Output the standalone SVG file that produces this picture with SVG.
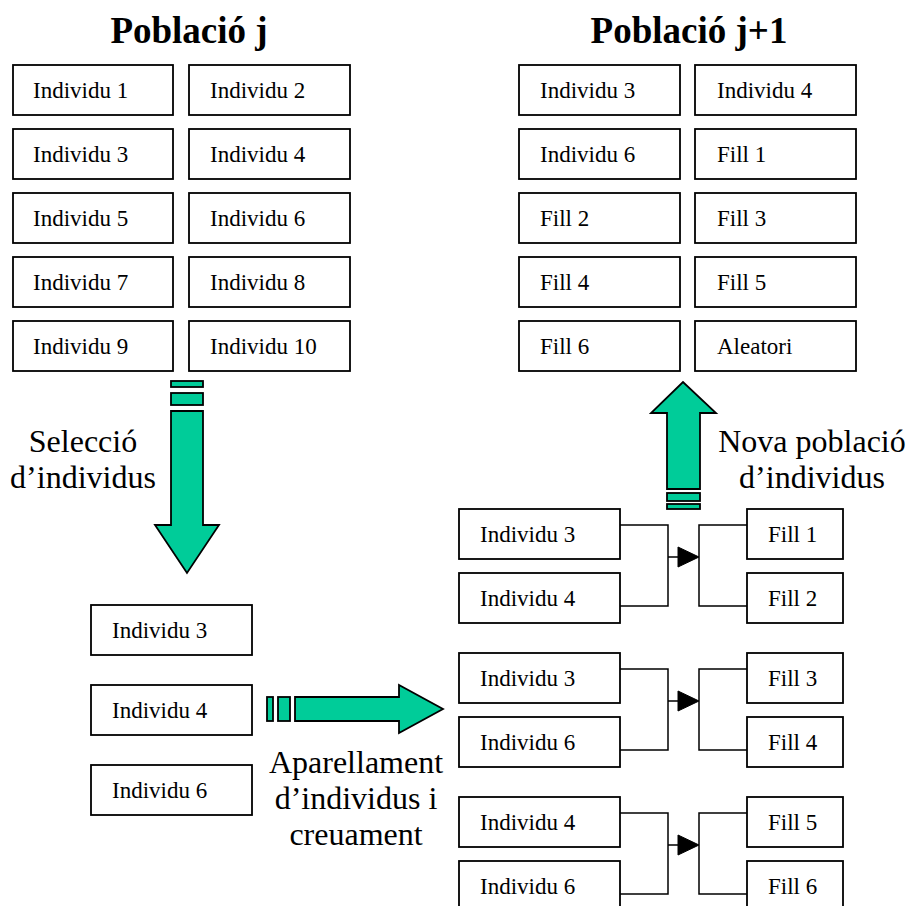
<svg xmlns="http://www.w3.org/2000/svg" width="907" height="906" viewBox="0 0 907 906">
<style>
.box{fill:#fff;stroke:#000;stroke-width:1.8}
.t{font-family:"Liberation Serif","Times New Roman",serif;font-size:23px;fill:#000}
.title{font-family:"Liberation Serif","Times New Roman",serif;font-size:37px;font-weight:bold;fill:#000;text-anchor:middle}
.lbl{font-family:"Liberation Serif","Times New Roman",serif;font-size:32px;fill:#000;text-anchor:middle}
.big{fill:#00cc99;stroke:#000;stroke-width:1.8}
.ln{fill:none;stroke:#000;stroke-width:1.5}
.tri{fill:#000;stroke:#000;stroke-width:1}
</style>
<rect width="907" height="906" fill="#fff"/>
<text class="title" x="189" y="43">Població j</text>
<text class="title" x="689" y="43">Població j+1</text>

<g id="pj">
<g id="pj-1"><rect class="box" x="13" y="65" width="160" height="50"/><text class="t" x="33" y="98">Individu 1</text></g>
<g id="pj-2"><rect class="box" x="189" y="65" width="161" height="50"/><text class="t" x="210" y="98">Individu 2</text></g>
<g id="pj-3"><rect class="box" x="13" y="129" width="160" height="50"/><text class="t" x="33" y="162">Individu 3</text></g>
<g id="pj-4"><rect class="box" x="189" y="129" width="161" height="50"/><text class="t" x="210" y="162">Individu 4</text></g>
<g id="pj-5"><rect class="box" x="13" y="193" width="160" height="50"/><text class="t" x="33" y="226">Individu 5</text></g>
<g id="pj-6"><rect class="box" x="189" y="193" width="161" height="50"/><text class="t" x="210" y="226">Individu 6</text></g>
<g id="pj-7"><rect class="box" x="13" y="257" width="160" height="50"/><text class="t" x="33" y="290">Individu 7</text></g>
<g id="pj-8"><rect class="box" x="189" y="257" width="161" height="50"/><text class="t" x="210" y="290">Individu 8</text></g>
<g id="pj-9"><rect class="box" x="13" y="321" width="160" height="50"/><text class="t" x="33" y="354">Individu 9</text></g>
<g id="pj-10"><rect class="box" x="189" y="321" width="161" height="50"/><text class="t" x="210" y="354">Individu 10</text></g>
</g>

<g id="pj1">
<g id="pj1-1"><rect class="box" x="519" y="65" width="161" height="50"/><text class="t" x="540" y="98">Individu 3</text></g>
<g id="pj1-2"><rect class="box" x="695" y="65" width="161" height="50"/><text class="t" x="717" y="98">Individu 4</text></g>
<g id="pj1-3"><rect class="box" x="519" y="129" width="161" height="50"/><text class="t" x="540" y="162">Individu 6</text></g>
<g id="pj1-4"><rect class="box" x="695" y="129" width="161" height="50"/><text class="t" x="717" y="162">Fill 1</text></g>
<g id="pj1-5"><rect class="box" x="519" y="193" width="161" height="50"/><text class="t" x="540" y="226">Fill 2</text></g>
<g id="pj1-6"><rect class="box" x="695" y="193" width="161" height="50"/><text class="t" x="717" y="226">Fill 3</text></g>
<g id="pj1-7"><rect class="box" x="519" y="257" width="161" height="50"/><text class="t" x="540" y="290">Fill 4</text></g>
<g id="pj1-8"><rect class="box" x="695" y="257" width="161" height="50"/><text class="t" x="717" y="290">Fill 5</text></g>
<g id="pj1-9"><rect class="box" x="519" y="321" width="161" height="50"/><text class="t" x="540" y="354">Fill 6</text></g>
<g id="pj1-10"><rect class="box" x="695" y="321" width="161" height="50"/><text class="t" x="717" y="354">Aleatori</text></g>
</g>

<g id="sel">
<g id="sel-3"><rect class="box" x="91" y="605" width="161" height="50"/><text class="t" x="112" y="638">Individu 3</text></g>
<g id="sel-4"><rect class="box" x="91" y="685" width="161" height="50"/><text class="t" x="112" y="718">Individu 4</text></g>
<g id="sel-6"><rect class="box" x="91" y="765" width="161" height="50"/><text class="t" x="112" y="798">Individu 6</text></g>
</g>

<g id="pair1">
<g id="p1a"><rect class="box" x="459" y="509" width="161" height="50"/><text class="t" x="480" y="542">Individu 3</text></g>
<g id="p1b"><rect class="box" x="459" y="573" width="161" height="50"/><text class="t" x="480" y="606">Individu 4</text></g>
<g id="f1"><rect class="box" x="747" y="509" width="96" height="50"/><text class="t" x="768" y="542">Fill 1</text></g>
<g id="f2"><rect class="box" x="747" y="573" width="96" height="50"/><text class="t" x="768" y="606">Fill 2</text></g>
</g>
<g id="pair2">
<g id="p2a"><rect class="box" x="459" y="653" width="161" height="50"/><text class="t" x="480" y="686">Individu 3</text></g>
<g id="p2b"><rect class="box" x="459" y="717" width="161" height="50"/><text class="t" x="480" y="750">Individu 6</text></g>
<g id="f3"><rect class="box" x="747" y="653" width="96" height="50"/><text class="t" x="768" y="686">Fill 3</text></g>
<g id="f4"><rect class="box" x="747" y="717" width="96" height="50"/><text class="t" x="768" y="750">Fill 4</text></g>
</g>
<g id="pair3">
<g id="p3a"><rect class="box" x="459" y="797" width="161" height="50"/><text class="t" x="480" y="830">Individu 4</text></g>
<g id="p3b"><rect class="box" x="459" y="861" width="161" height="50"/><text class="t" x="480" y="894">Individu 6</text></g>
<g id="f5"><rect class="box" x="747" y="797" width="96" height="50"/><text class="t" x="768" y="830">Fill 5</text></g>
<g id="f6"><rect class="box" x="747" y="861" width="96" height="50"/><text class="t" x="768" y="894">Fill 6</text></g>
</g>

<g id="connectors">
<g id="arrow-down">
<rect class="big" x="171" y="381" width="32" height="6"/>
<rect class="big" x="171" y="393" width="32" height="12"/>
<path class="big" d="M171,411 H203 V525 H219 L187,573 L155,525 H171 Z"/>
</g>
<g id="arrow-up">
<path class="big" d="M667,489 V413 H651 L683,382 L716,413 H700 V489 Z"/>
<rect class="big" x="667" y="493" width="33" height="8"/>
<rect class="big" x="667" y="504" width="33" height="5"/>
</g>
<g id="arrow-right">
<rect class="big" x="267" y="697" width="6" height="24"/>
<rect class="big" x="278" y="697" width="12" height="24"/>
<path class="big" d="M295,697 H399 V685 L443,709 L399,733 V721 H295 Z"/>
</g>
<g id="cross1">
<path class="ln" d="M620,525 H668 V606 H620 M668,557 H679 M747,525 H699 V606 H747"/>
<polygon class="tri" points="678,547 699,557 678,567"/>
</g>
<g id="cross2">
<path class="ln" d="M620,669 H668 V750 H620 M668,701 H679 M747,669 H699 V750 H747"/>
<polygon class="tri" points="678,691 699,701 678,711"/>
</g>
<g id="cross3">
<path class="ln" d="M620,813 H668 V894 H620 M668,845 H679 M747,813 H699 V894 H747"/>
<polygon class="tri" points="678,835 699,845 678,855"/>
</g>
</g>

<g id="labels">
<text class="lbl" x="83" y="452">Selecció</text>
<text class="lbl" x="83" y="488">d’individus</text>
<text class="lbl" x="812" y="452">Nova població</text>
<text class="lbl" x="812" y="488">d’individus</text>
<text class="lbl" x="356" y="773">Aparellament</text>
<text class="lbl" x="356" y="809">d’individus i</text>
<text class="lbl" x="356" y="845">creuament</text>
</g>
</svg>
